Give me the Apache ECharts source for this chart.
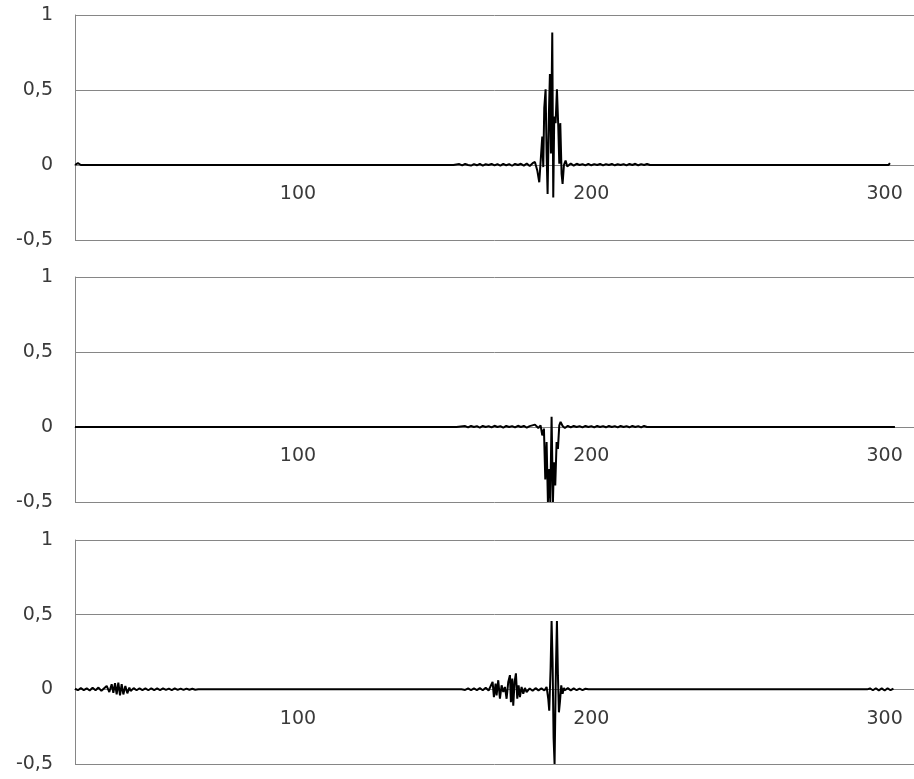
<!DOCTYPE html>
<html>
<head>
<meta charset="utf-8">
<script src="https://cdn.jsdelivr.net/npm/echarts@6/dist/echarts.min.js"></script>
<style>
  html, body { margin: 0; padding: 0; background: #fff; }
  #chart { width: 914px; height: 779px; }
</style>
</head>
<body>
<div id="chart"></div>
<script>
// ---- axis settings ----
const yMin = -0.5, yMax = 1, yStep = 0.5;
const xMin = 24, xMax = 310;
const xTickValues = [100, 200, 300];

// ---- panel 1 (top) ----
const x1 = [24, 25, 25.5, 26,
  51.5, 52, 52.5,
  59.3, 59.8, 60.3,
  147.2, 147.7, 148.2,
  152, 152.5, 153,
  155, 156, 157, 158, 159, 160, 161, 162, 163, 164, 165, 166, 167, 168, 169, 170, 171, 172, 173, 174, 175, 176, 177, 178, 179, 180,
  180.78, 181.58, 182.26, 182.83, 183.28, 183.62, 183.96, 184.42, 184.76, 185.10, 185.55, 185.89, 186.24, 186.69, 187.03, 187.37, 187.83, 188.28, 188.74, 189.08, 189.42, 189.87, 190.21, 190.67, 191.23, 191.80,
  193, 194, 195, 196, 197, 198, 199, 200, 201, 202, 203, 204, 205, 206, 207, 208, 209, 210, 211, 212, 213, 214, 215, 216, 217, 218, 219, 220,
  238.2, 238.7, 239.2, 279.8, 280.3, 280.8, 284.9, 285.4, 285.9, 301.3, 301.8];
const y1 = [0, 0.012, 0, 0,
  0, 0.012, 0,
  0, 0.012, 0,
  0, 0.012, 0,
  0, 0.012, 0,
  0.006, -0.003, 0.007, 0, -0.004, 0.006, -0.002, 0.007, -0.004, 0.005, 0, 0.007, -0.003, 0.006, -0.004, 0.008, -0.002, 0.006, -0.005, 0.007, 0, 0.008, -0.004, 0.01, -0.006, 0.012,
  0.02, -0.036, -0.115, -0.126, 0.19, -0.014, 0.38, 0.505, 0.077, -0.194, 0.347, 0.606, 0.077, 0.883, -0.216, 0.324, 0.279, 0.505, 0.257, 0.009, 0.279, -0.059, -0.126, 0, 0.03, -0.01,
  0.01, -0.004, 0.008, 0, 0.006, -0.003, 0.007, -0.002, 0.006, 0, 0.007, -0.003, 0.006, 0, 0.007, -0.002, 0.005, 0, 0.006, -0.003, 0.007, 0, 0.008, -0.002, 0.006, 0, 0.007, 0,
  0, 0.012, 0, 0, 0.012, 0, 0, 0.012, 0, 0, 0.012];

// ---- panel 2 (middle) ----
const x2 = [24, 85.5, 86, 86.5, 121.3, 121.8, 122.3, 127.5, 128, 128.5, 141.8, 142.3, 142.8, 153, 153.5, 154,
  157, 158, 159, 160, 161, 162, 163, 164, 165, 166, 167, 168, 169, 170, 171, 172, 173, 174, 175, 176, 177, 178, 179,
  180.78, 181.92, 182.71, 183.28, 183.85, 184.31, 184.76, 185.21, 185.67, 186.01, 186.46, 186.92, 187.26, 187.71, 188.17, 188.62, 189.08, 189.53, 190.21, 191.0,
  192, 193, 194, 195, 196, 197, 198, 199, 200, 201, 202, 203, 204, 205, 206, 207, 208, 209, 210, 211, 212, 213, 214, 215, 216, 217, 218, 219, 220,
  256, 256.5, 257, 275.7, 276.2, 276.7, 292.8, 293.3, 293.8, 303.5];
const y2 = [0, 0, 0.012, 0, 0, 0.012, 0, 0, 0.012, 0, 0, 0.012, 0, 0, 0.012, 0,
  0.006, -0.003, 0.007, 0, 0.006, -0.004, 0.007, 0, 0.006, -0.003, 0.008, 0, 0.006, -0.004, 0.007, 0, 0.006, -0.003, 0.008, 0, 0.007, -0.004, 0.006,
  0.016, -0.007, 0.011, -0.056, -0.011, -0.35, -0.1, -0.5, -0.28, -0.5, 0.068, -0.5, -0.236, -0.39, -0.1, -0.146, 0.011, 0.034, 0.007, -0.007,
  0.008, -0.003, 0.007, 0, 0.006, -0.003, 0.007, 0, 0.006, -0.003, 0.007, 0, 0.006, -0.002, 0.007, 0, 0.006, -0.003, 0.007, 0, 0.006, -0.002, 0.007, 0, 0.006, -0.003, 0.007, 0, 0,
  0, 0.012, 0, 0, 0.012, 0, 0, 0.012, 0, 0];

// ---- panel 3 (bottom) ----
const x3 = [24, 25, 26, 27, 28, 29, 30, 31, 32, 33,
  34.80, 35.70, 36.50, 37.07, 37.64, 38.20, 38.77, 39.34, 39.91, 40.48, 41.16, 41.84, 42.52, 42.98,
  44, 45, 46, 47, 48, 49, 50, 51, 52, 53, 54, 55, 56, 57, 58, 59, 60, 61, 62, 63, 64, 65, 66,
  155.8,
  156, 157, 158, 159, 160, 161, 162, 163, 164, 165,
  166.35, 166.80, 167.37, 167.71, 168.28, 168.85, 169.42, 169.99, 170.55, 171.12, 171.69, 172.26, 172.60, 173.05, 173.39, 173.85, 174.30, 174.76, 175.21, 175.67, 176.23, 176.80, 177.37, 177.94,
  179, 180, 181, 182, 183, 184,
  184.76, 185.32, 185.66, 186.12, 186.46, 186.80, 187.14, 187.48, 187.94, 188.28, 188.62, 188.96, 189.30, 189.75, 190.21, 190.66,
  191, 192, 193, 194, 195, 196, 197, 198, 199,
  200, 294,
  295, 296, 297, 298, 299, 300, 301, 302, 303];
const y3 = [0.004, -0.006, 0.008, -0.005, 0.007, -0.008, 0.01, -0.006, 0.012, -0.01,
  0.023, -0.018, 0.034, -0.023, 0.041, -0.034, 0.045, -0.041, 0.034, -0.034, 0.023, -0.027, 0.011, -0.011,
  0.008, -0.006, 0.007, -0.005, 0.006, -0.006, 0.007, -0.005, 0.006, -0.005, 0.006, -0.004, 0.005, -0.005, 0.006, -0.004, 0.005, -0.004, 0.005, -0.003, 0.004, -0.003, 0,
  0,
  0.005, -0.004, 0.006, -0.005, 0.006, -0.005, 0.008, -0.006, 0.01, -0.008,
  0.05, -0.052, 0.039, -0.041, 0.061, -0.063, 0.027, -0.018, 0.016, -0.063, 0.05, 0.095, -0.086, 0.073, -0.109, 0.05, 0.107, -0.063, 0.027, -0.052, 0.016, -0.03, 0.009, -0.018,
  0.006, -0.01, 0.008, -0.007, 0.006, -0.008,
  0.016, -0.063, -0.143, 0.14, 0.458, 0.186, -0.324, -0.5, 0.14, 0.458, 0.095, -0.154, -0.086, 0.027, -0.03, 0.009,
  -0.006, 0.008, -0.007, 0.006, -0.006, 0.005, -0.005, 0.004, 0,
  0, 0,
  0.006, -0.006, 0.007, -0.007, 0.006, -0.008, 0.007, -0.006, 0.005];

const panels = [[x1, y1], [x2, y2], [x3, y3]];
const gridTops = [15, 277, 540];
const gridHeights = [225, 225, 224];

const gray = '#868686';
const labelFont = { fontFamily: 'DejaVu Sans', fontSize: 19, color: '#3a3a3a' };

const grids = [], xAxes = [], yAxes = [], series = [];
panels.forEach(([xs, ys], i) => {
  // distance from the grid bottom up to the value 0 (so the x axis sits on zero)
  const zeroLift = gridHeights[i] * (0 - yMin) / (yMax - yMin);
  grids.push({ left: 75, right: 0, top: gridTops[i], height: gridHeights[i], containLabel: false });
  xAxes.push({
    type: 'value', gridIndex: i, min: xMin, max: xMax, position: 'bottom',
    offset: -zeroLift,
    axisLine: { show: true, onZero: false, lineStyle: { color: gray, width: 1 } },
    axisTick: { show: false },
    splitLine: { show: false },
    axisLabel: Object.assign({ customValues: xTickValues, margin: 20 }, labelFont)
  });
  yAxes.push({
    type: 'value', gridIndex: i, min: yMin, max: yMax, interval: yStep,
    axisLine: { show: true, onZero: false, lineStyle: { color: gray, width: 1 } },
    axisTick: { show: false },
    splitLine: { show: true, showMinLine: true, showMaxLine: true, lineStyle: { color: gray, width: 1 } },
    axisLabel: Object.assign({
      margin: 22,
      padding: [4, 0, 0, 0],
      formatter: v => String(v).replace('.', ',')
    }, labelFont)
  });
  series.push({
    type: 'line', xAxisIndex: i, yAxisIndex: i,
    data: xs.map((x, k) => [x, ys[k]]),
    showSymbol: false, symbol: 'none',
    lineStyle: { color: '#000', width: 2 },
    clip: true, silent: true, z: 3
  });
});

const chart = echarts.init(document.getElementById('chart'), null, { renderer: 'canvas' });
chart.setOption({
  animation: false,
  backgroundColor: '#fff',
  grid: grids, xAxis: xAxes, yAxis: yAxes, series: series
});
</script>
</body>
</html>
